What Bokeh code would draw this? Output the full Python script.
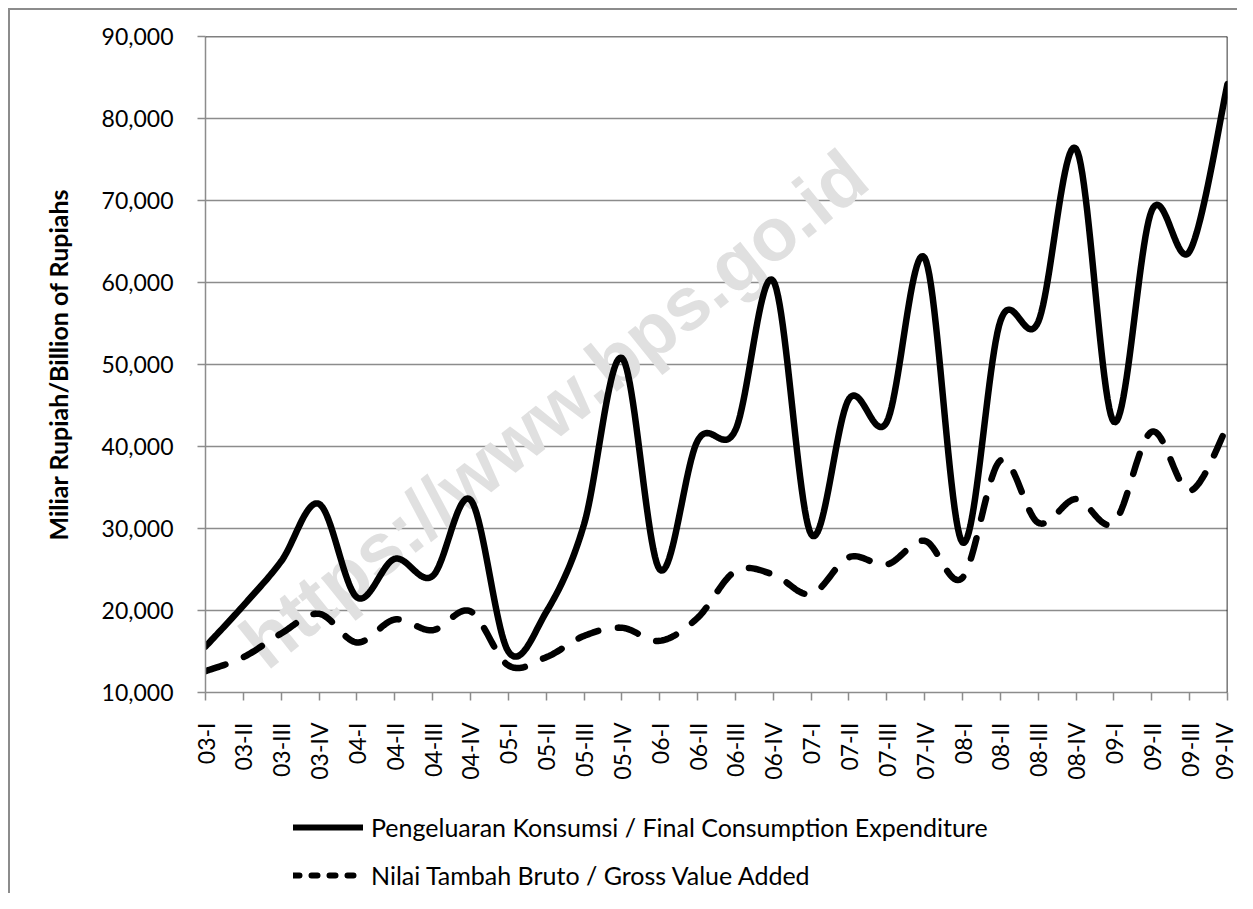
import numpy as np
from bokeh.plotting import figure
from bokeh.layouts import column
from bokeh.models import (FixedTicker, NumeralTickFormatter, Span, Legend, LegendItem, Label)
from bokeh.embed import file_html
from bokeh.resources import INLINE

quarters = ["03-I", "03-II", "03-III", "03-IV", "04-I", "04-II", "04-III", "04-IV",
            "05-I", "05-II", "05-III", "05-IV", "06-I", "06-II", "06-III", "06-IV",
            "07-I", "07-II", "07-III", "07-IV", "08-I", "08-II", "08-III", "08-IV",
            "09-I", "09-II", "09-III", "09-IV"]

consumption = [15600, 20600, 26000, 33000, 21600, 26300, 24200, 33500,
               15000, 19800, 30500, 50800, 25000, 40700, 42000, 60200,
               29300, 45800, 43000, 63000, 28300, 55300, 55200, 76300,
               43000, 68800, 63800, 84200]

gross_value_added = [12600, 14300, 17200, 19600, 16100, 18900, 17600, 19900,
                     13300, 14300, 16900, 17900, 16300, 19100, 24800, 24400,
                     22000, 26500, 25600, 28500, 24000, 38300, 30700, 33600,
                     30700, 41800, 34600, 42500]

y_ticks = [10000, 20000, 30000, 40000, 50000, 60000, 70000, 80000, 90000]

series_names = ["Pengeluaran Konsumsi / Final Consumption Expenditure",
                "Nilai Tambah Bruto / Gross Value Added"]
y_title = "Miliar Rupiah/Billion of Rupiahs"
watermark = "https://www.bps.go.id"


def smooth(vals, n=24):
    """Excel-like smoothed line (Bezier segments with 1/6 tension)."""
    x = np.arange(len(vals), dtype=float)
    y = np.asarray(vals, dtype=float)
    xs, ys = [], []
    N = len(vals)
    for i in range(N - 1):
        i0, i3 = max(i - 1, 0), min(i + 2, N - 1)
        p0 = np.array([x[i], y[i]])
        p3 = np.array([x[i + 1], y[i + 1]])
        c1 = p0 + (p3 - np.array([x[i0], y[i0]])) / 6.0
        c2 = p3 - (np.array([x[i3], y[i3]]) - p0) / 6.0
        t = np.linspace(0, 1, n, endpoint=(i == N - 2))
        pts = (((1 - t) ** 3)[:, None] * p0 + (3 * (1 - t) ** 2 * t)[:, None] * c1
               + (3 * (1 - t) * t ** 2)[:, None] * c2 + (t ** 3)[:, None] * p3)
        xs.extend(pts[:, 0])
        ys.extend(pts[:, 1])
    return xs, ys


FONT = "Lato"
GRAY = "#8c8c8c"
W = 1227  # inner width (page 8px pad + 2px border + content)

p = figure(frame_width=1022, frame_height=656,
           min_border_left=195, min_border_right=10, min_border_top=26, min_border_bottom=108,
           x_range=(0, len(quarters) - 1), y_range=(10000, 90000),
           output_backend="svg", toolbar_location=None, tools="")
p.outline_line_color = None
p.background_fill_color = "white"
p.border_fill_color = "white"

p.xgrid.grid_line_color = None
p.ygrid.grid_line_color = GRAY
p.ygrid.grid_line_width = 1.3
p.ygrid.ticker = FixedTicker(ticks=y_ticks)

p.yaxis.ticker = FixedTicker(ticks=y_ticks)
p.yaxis.formatter = NumeralTickFormatter(format="0,0")
p.yaxis.axis_line_color = GRAY
p.yaxis.axis_line_width = 1.5
p.yaxis.major_tick_line_color = GRAY
p.yaxis.major_tick_line_width = 1.5
p.yaxis.major_tick_out = 8
p.yaxis.major_tick_in = 0
p.yaxis.minor_tick_line_color = None
p.yaxis.major_label_standoff = 24
p.yaxis.major_label_text_font = FONT
p.yaxis.major_label_text_font_size = "23px"
p.yaxis.major_label_text_color = "black"
p.yaxis.axis_label = y_title
p.yaxis.axis_label_text_font = FONT
p.yaxis.axis_label_text_font_style = "bold"
p.yaxis.axis_label_text_font_size = "25px"
p.yaxis.axis_label_text_color = "black"
p.yaxis.axis_label_standoff = 26

p.xaxis.ticker = FixedTicker(ticks=list(range(len(quarters))))
p.xaxis.major_label_overrides = {i: q for i, q in enumerate(quarters)}
p.xaxis.major_label_orientation = np.pi / 2
p.xaxis.axis_line_color = GRAY
p.xaxis.axis_line_width = 1.5
p.xaxis.major_tick_line_color = GRAY
p.xaxis.major_tick_line_width = 1.5
p.xaxis.major_tick_out = 8
p.xaxis.major_tick_in = 0
p.xaxis.minor_tick_line_color = None
p.xaxis.major_label_standoff = 22
p.xaxis.major_label_text_font = FONT
p.xaxis.major_label_text_font_size = "23px"
p.xaxis.major_label_text_color = "black"

p.add_layout(Span(location=90000, dimension="width", line_color="black", line_width=1.6))
p.add_layout(Span(location=len(quarters) - 1, dimension="height", line_color="black", line_width=1.6))

p.add_layout(Label(x=9.2, y=44600, text=watermark, angle=38.7, angle_units="deg",
                   text_align="center", text_baseline="middle",
                   text_font="Liberation Sans", text_font_style="bold",
                   text_font_size="75px", text_color="#e0e0e0", level="underlay"))

sx1, sy1 = smooth(consumption)
sx2, sy2 = smooth(gross_value_added)
p.line(sx1, sy1, line_color="black", line_width=6.5, line_join="round", line_cap="round")
p.line(sx2, sy2, line_color="black", line_width=6.5, line_dash="21 20",
       line_join="round", line_cap="round")

# legend panel below the chart (its frame is aligned with the chart frame)
leg = figure(width=W, height=93, min_border=0, x_range=(0, 1), y_range=(0, 1),
             x_axis_type=None, y_axis_type=None,
             output_backend="svg", toolbar_location=None, tools="")
leg.outline_line_color = None
leg.grid.visible = False
leg.background_fill_color = "white"
leg.border_fill_color = "white"
# legend-only renderers, kept outside the visible range
g1 = leg.line([-5, -4], [-5, -5], line_color="black", line_width=6, line_cap="round")
g2 = leg.line([-5, -4], [-5, -5], line_color="black", line_width=6, line_dash="6 12",
              line_cap="round")
legend = Legend(items=[LegendItem(label=series_names[0], renderers=[g1]),
                       LegendItem(label=series_names[1], renderers=[g2])],
                location=(88, 3), orientation="vertical",
                glyph_width=70, glyph_height=30, label_height=30, spacing=18,
                label_standoff=8, padding=0, margin=0,
                border_line_color=None, background_fill_alpha=0,
                label_text_font=FONT, label_text_font_size="25px", label_text_color="black",
                label_text_baseline="middle")
leg.add_layout(legend, "center")

inner = column(p, leg, spacing=0,
               styles={"border-left": "2px solid #8c8c8c", "border-top": "2px solid #8c8c8c"})
page = column(inner, spacing=0, styles={"padding-left": "8px", "padding-top": "8px"})

open("out.html", "w").write(file_html(page, INLINE))
